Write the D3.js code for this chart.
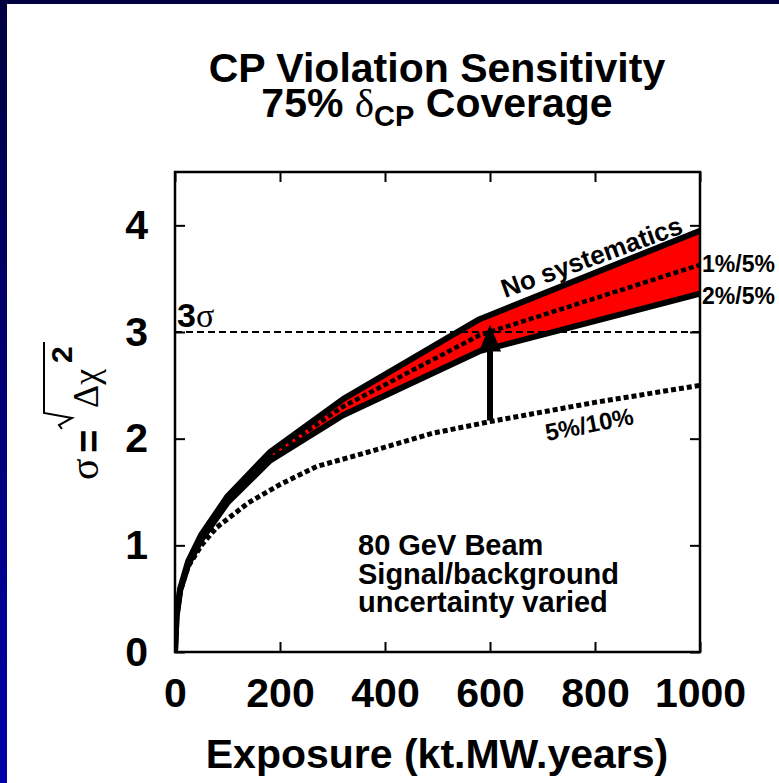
<!DOCTYPE html>
<html>
<head>
<meta charset="utf-8">
<script src="https://cdn.jsdelivr.net/npm/d3@7"></script>
<style>
  html, body { margin: 0; padding: 0; background: #fff; }
  svg { display: block; font-family: "Liberation Sans", Arial, sans-serif; font-weight: bold; }
</style>
</head>
<body>
<svg id="chart" width="779" height="783"></svg>
<script>
//
// Data
//

// exposure in kt.MW.years where the band curves were sampled
var exposure = [0, 3, 10, 25, 50, 100, 180, 320, 580, 1000]
// sigma for each systematics assumption
var noSyst = [0, 0.35, 0.6, 0.85, 1.1, 1.46, 1.87, 2.37, 3.12, 3.95]
var sys1_5 = [0, 0.34, 0.59, 0.84, 1.08, 1.43, 1.83, 2.3, 2.97, 3.63]
var sys2_5 = [0, 0.33, 0.58, 0.82, 1.05, 1.4, 1.79, 2.22, 2.82, 3.36]
// the 5%/10% curve was sampled on its own grid
var exposure5_10 = [0, 3, 10, 25, 50, 80, 140, 200, 270, 365, 490, 600, 800, 1000]
var sys5_10 = [0, 0.34, 0.57, 0.8, 1.0, 1.17, 1.4, 1.57, 1.74, 1.87, 2.05, 2.16, 2.34, 2.5]

var xTicks = [0, 200, 400, 600, 800, 1000]
var yTicks = [0, 1, 2, 3, 4]
var threeSigma = 3
var arrowX = 600
var arrowFrom = 2.17
var arrowTo = 3.07
var noteLines = ['80 GeV Beam', 'Signal/background', 'uncertainty varied']

//
// Layout
//

var plotLeft = 175, plotRight = 700, plotTop = 172, plotBottom = 652
var svg = d3.select('#chart')

// navy slide frame
var defs = svg.append('defs')
var grad = defs.append('linearGradient').attr('id', 'edge')
  .attr('x1', 0).attr('y1', 0).attr('x2', 0).attr('y2', 1)
grad.append('stop').attr('offset', '0%').attr('stop-color', '#000040')
grad.append('stop').attr('offset', '100%').attr('stop-color', '#0000aa')
defs.append('clipPath').attr('id', 'plot')
  .append('rect').attr('x', plotLeft).attr('y', plotTop)
  .attr('width', plotRight - plotLeft).attr('height', plotBottom - plotTop)

svg.append('rect').attr('x', 0).attr('y', 0).attr('width', 779).attr('height', 4).attr('fill', '#000040')
svg.append('rect').attr('x', 0).attr('y', 0).attr('width', 7).attr('height', 783).attr('fill', 'url(#edge)')

var x = d3.scaleLinear().domain([0, 1000]).range([plotLeft, plotRight])
var y = d3.scaleLinear().domain([0, 4.5]).range([plotBottom, plotTop])

//
// Title
//

var serif = '"Liberation Serif", "DejaVu Serif", serif'
svg.append('text').attr('text-anchor', 'middle').attr('font-size', 41)
  .attr('x', 437).attr('y', 82).text('CP Violation Sensitivity')
var title = svg.append('text').attr('text-anchor', 'middle').attr('font-size', 41)
  .attr('x', 437).attr('y', 117)
title.append('tspan').text('75% ')
title.append('tspan').attr('font-family', serif).attr('font-weight', 'normal').text('δ')
title.append('tspan').attr('font-size', 29).attr('dy', 9).text('CP')
title.append('tspan').attr('dy', -9).text(' Coverage')

//
// Curves
//

var g = svg.append('g').attr('clip-path', 'url(#plot)')

var band = d3.area()
  .x(function (d, i) { return x(exposure[i]) })
  .y0(function (d, i) { return y(sys2_5[i]) })
  .y1(function (d, i) { return y(noSyst[i]) })
g.append('path').datum(noSyst).attr('d', band).attr('fill', '#ff0000')

var line = d3.line()
  .x(function (d, i) { return x(exposure[i]) })
  .y(function (d) { return y(d) })
var line5_10 = d3.line()
  .x(function (d, i) { return x(exposure5_10[i]) })
  .y(function (d) { return y(d) })

g.append('line')
  .attr('x1', x(0)).attr('x2', x(1000))
  .attr('y1', y(threeSigma)).attr('y2', y(threeSigma))
  .attr('stroke', '#000').attr('stroke-width', 2).attr('stroke-dasharray', '7,4')

g.append('path').datum(sys5_10).attr('d', line5_10)
  .attr('fill', 'none').attr('stroke', '#000').attr('stroke-width', 5).attr('stroke-dasharray', '5,3')
g.append('path').datum(sys1_5).attr('d', line)
  .attr('fill', 'none').attr('stroke', '#000').attr('stroke-width', 4.5).attr('stroke-dasharray', '5,3')
g.append('path').datum(noSyst).attr('d', line)
  .attr('fill', 'none').attr('stroke', '#000').attr('stroke-width', 6).attr('stroke-linejoin', 'round')
g.append('path').datum(sys2_5).attr('d', line)
  .attr('fill', 'none').attr('stroke', '#000').attr('stroke-width', 6).attr('stroke-linejoin', 'round')

// arrow from the 5%/10% curve up to the band
g.append('line')
  .attr('x1', x(arrowX)).attr('x2', x(arrowX))
  .attr('y1', y(arrowFrom)).attr('y2', y(arrowTo) + 20)
  .attr('stroke', '#000').attr('stroke-width', 6)
g.append('path')
  .attr('d', 'M' + x(arrowX) + ',' + y(arrowTo) +
    'L' + (x(arrowX) + 11) + ',' + (y(arrowTo) + 27) +
    'L' + (x(arrowX) - 11) + ',' + (y(arrowTo) + 27) + 'Z')
  .attr('fill', '#000')

//
// Axes (ticks inside, mirrored on top/right)
//

function styleAxis(sel) {
  sel.select('.domain').remove()
  sel.selectAll('line').attr('stroke', '#000').attr('stroke-width', 2)
  sel.selectAll('text').attr('fill', '#000').attr('font-size', 41)
    .attr('font-family', '"Liberation Sans", Arial, sans-serif').attr('font-weight', 'bold')
}

svg.append('g').attr('transform', 'translate(0,' + plotBottom + ')')
  .call(d3.axisBottom(x).tickValues(xTicks).tickFormat(d3.format('d')).tickSize(-10).tickPadding(26))
  .call(styleAxis)
svg.append('g').attr('transform', 'translate(0,' + plotTop + ')')
  .call(d3.axisTop(x).tickValues(xTicks).tickSize(-10).tickFormat(''))
  .call(styleAxis)
svg.append('g').attr('transform', 'translate(' + plotLeft + ',0)')
  .call(d3.axisLeft(y).tickValues(yTicks).tickFormat(d3.format('d')).tickSize(-10).tickPadding(27))
  .call(styleAxis)
svg.append('g').attr('transform', 'translate(' + plotRight + ',0)')
  .call(d3.axisRight(y).tickValues(yTicks).tickSize(-10).tickFormat(''))
  .call(styleAxis)

svg.append('rect')
  .attr('x', plotLeft).attr('y', plotTop).attr('width', plotRight - plotLeft).attr('height', plotBottom - plotTop)
  .attr('fill', 'none').attr('stroke', '#000').attr('stroke-width', 2.5)

//
// Labels
//

svg.append('text').attr('x', 437).attr('y', 768).attr('text-anchor', 'middle')
  .attr('font-size', 41).text('Exposure (kt.MW.years)')

// sigma = sqrt(delta chi^2), rotated
var yl = svg.append('g').attr('transform', 'translate(98,480) rotate(-90)')
yl.append('text').attr('x', 0).attr('y', 0).attr('font-family', serif).attr('font-weight', 'normal')
  .attr('font-size', 40).text('σ')
yl.append('text').attr('x', 27).attr('y', 5).attr('font-size', 40).text('=')
yl.append('path').attr('d', 'M51,-36 L55,-39 L62,-26 L67,-54 L138,-54')
  .attr('fill', 'none').attr('stroke', '#000').attr('stroke-width', 2)
yl.append('text').attr('x', 72).attr('y', 0).attr('font-family', serif).attr('font-weight', 'normal')
  .attr('font-size', 36).text('Δχ')
yl.append('text').attr('x', 117).attr('y', -26).attr('font-size', 30).text('2')

// 3 sigma
var ts = svg.append('text').attr('x', 177).attr('y', 327).attr('font-size', 34)
ts.append('tspan').text('3')
ts.append('tspan').attr('font-family', serif).attr('font-weight', 'normal').text('σ')

svg.append('text').attr('transform', 'translate(505,298) rotate(-20)')
  .attr('font-size', 26).text('No systematics')
svg.append('text').attr('x', 702).attr('y', 272).attr('font-size', 23).text('1%/5%')
svg.append('text').attr('x', 702).attr('y', 304).attr('font-size', 23).text('2%/5%')
svg.append('text').attr('transform', 'translate(547,441) rotate(-11)')
  .attr('font-size', 24).text('5%/10%')

svg.append('text').attr('font-size', 29)
  .selectAll('tspan').data(noteLines).enter().append('tspan')
  .attr('x', 358).attr('y', function (d, i) { return 555 + i * 28.5 })
  .text(function (d) { return d })
</script>
</body>
</html>
